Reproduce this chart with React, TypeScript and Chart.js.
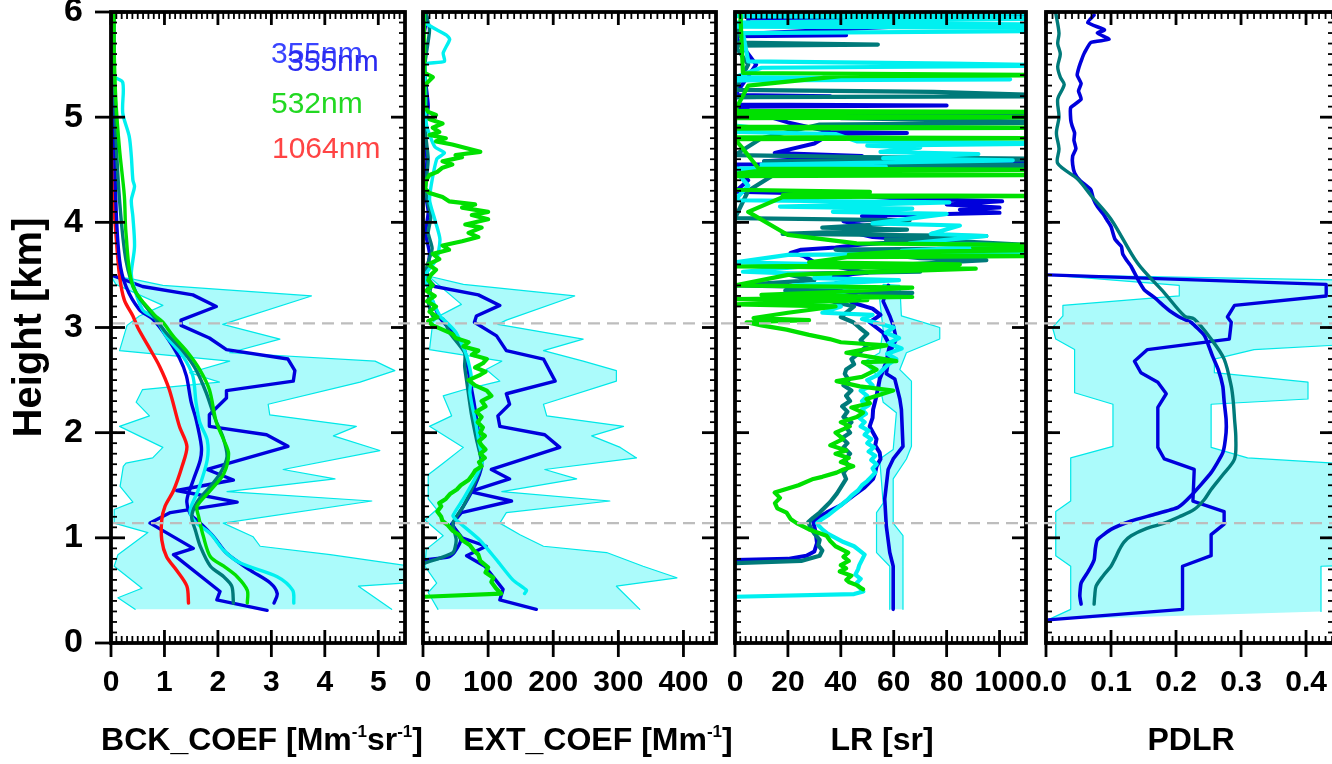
import { useEffect, useRef } from 'react';
import { Chart, registerables } from 'chart.js';

Chart.register(...registerables);

type Pt = [number, number];

const FONT = '"Liberation Sans", Arial, Helvetica, sans-serif';

// Shared height axis (km)
const heightTicks = [0, 1, 2, 3, 4, 5, 6];
const heightMax = 6;
const refHeights = [3.04, 1.14];

// Wavelength labels shown in the backscatter panel
const legendLabels = ['355nm', '355nm', '532nm', '1064nm'];

// X tick labels per panel
const bckTicks = [0, 1, 2, 3, 4, 5];
const extTicks = [0, 100, 200, 300, 400];
const lrTicks = [0, 20, 40, 60, 80, 100];
const pdlrTicks = [0, 0.1, 0.2, 0.3, 0.4];

// ---------- Backscatter coefficient [Mm-1 sr-1] vs height [km] ----------
const bckBand: Pt[] = [
  [5.25, 0.32], [4.63, 0.54], [5.47, 0.57], [5.6, 0.73], [4.1, 0.84], [2.79, 0.92], [2.66, 1.01], [2.1, 1.14],
  [4.88, 1.35], [2.17, 1.44], [4.19, 1.56], [3.22, 1.65], [5.03, 1.83], [4.16, 1.97], [4.59, 2.06], [2.97, 2.17],
  [2.94, 2.27], [4.66, 2.48], [5.31, 2.59], [4.94, 2.68], [2.22, 2.76], [3.16, 2.89], [2.09, 3.03], [3.75, 3.3],
  [0.97, 3.4], [0.41, 3.46], [0, 3.49],
  [0.09, 3.41], [0.97, 3.21], [0.53, 3.11], [0.3, 3.02], [0.16, 2.78], [2.22, 2.68], [1.47, 2.57], [2.03, 2.48],
  [0.59, 2.41], [0.47, 2.29], [0.72, 2.16], [0.16, 2.06], [0.97, 1.86], [0.78, 1.76], [0.28, 1.71], [0.23, 1.68],
  [0.17, 1.49], [0.41, 1.34], [0.06, 1.27], [0.06, 1.14], [0.69, 1.05], [0.13, 0.84], [0.06, 0.73], [0.58, 0.52],
  [0.13, 0.43], [0.45, 0.32],
];
const bck355Mean: Pt[] = [
  [2.92, 0.31], [1.98, 0.41], [2.04, 0.49], [1.17, 0.84], [1.54, 0.9], [0.73, 1.14], [1.11, 1.24], [2.36, 1.34],
  [1.23, 1.45], [2.29, 1.55], [1.8, 1.65], [3.31, 1.87], [2.91, 1.98], [1.84, 2.06], [1.84, 2.17], [2.16, 2.33],
  [2.16, 2.4], [3.41, 2.49], [3.44, 2.59], [3.31, 2.7], [2.16, 2.79], [1.84, 2.9], [1.31, 3.02], [1.31, 3.07],
  [1.97, 3.2], [1.53, 3.31], [0.59, 3.39], [0, 3.5],
];
const bck355: Pt[] = [
  [3.05, 0.38], [3.11, 0.47], [2.98, 0.57], [2.61, 0.69], [2.17, 0.85], [1.92, 1.01], [1.67, 1.14], [1.48, 1.23],
  [1.42, 1.36], [1.54, 1.55], [1.67, 1.74], [1.69, 1.87], [1.59, 2.13], [1.5, 2.29], [1.41, 2.54], [1.28, 2.71],
  [1.03, 2.92], [0.78, 3.08], [0.53, 3.17], [0.28, 3.39], [0.16, 3.64], [0.09, 4.21], [0.06, 5.17], [0.05, 6.0],
];
const bck355b: Pt[] = [
  [3.42, 0.38], [3.4, 0.5], [3.11, 0.63], [2.42, 0.76], [2.11, 0.88], [1.86, 1.04], [1.58, 1.15], [1.48, 1.26],
  [1.63, 1.45], [1.8, 1.74], [1.8, 1.93], [1.66, 2.1], [1.59, 2.29], [1.53, 2.54], [1.34, 2.73], [1.03, 2.92],
  [0.84, 3.08], [0.59, 3.17], [0.41, 3.42], [0.38, 3.52], [0.44, 3.77], [0.41, 4.05], [0.38, 4.21], [0.44, 4.34],
  [0.41, 4.4], [0.38, 4.63], [0.34, 4.82], [0.22, 5.04], [0.22, 5.33], [0.06, 5.39], [0.03, 5.7], [0.06, 5.8], [0.05, 6.0],
];
const bck355c: Pt[] = [
  [2.29, 0.38], [2.26, 0.54], [2.11, 0.63], [1.86, 0.73], [1.67, 0.92], [1.58, 1.07], [1.51, 1.2], [1.61, 1.34],
  [1.86, 1.49], [2.04, 1.61], [2.17, 1.77], [2.1, 1.95], [1.95, 2.13], [1.78, 2.38], [1.59, 2.6], [1.34, 2.78],
  [1.03, 2.95], [0.84, 3.08], [0.47, 3.33], [0.28, 3.64], [0.16, 4.21], [0.09, 4.85], [0.06, 5.48], [0.05, 6.0],
];
const bck532: Pt[] = [
  [2.55, 0.38], [2.55, 0.5], [2.36, 0.63], [2.11, 0.73], [1.86, 0.82], [1.73, 1.01], [1.64, 1.2], [1.61, 1.3],
  [1.86, 1.45], [2.11, 1.61], [2.2, 1.8], [2.11, 1.93], [1.97, 2.1], [1.84, 2.41], [1.66, 2.6], [1.44, 2.76],
  [1.16, 2.92], [0.97, 3.05], [0.81, 3.12], [0.41, 3.39], [0.28, 3.9], [0.25, 4.25], [0.16, 4.69], [0.09, 5.17],
  [0.06, 5.64], [0.06, 6.0],
];
const bck1064: Pt[] = [
  [1.45, 0.38], [1.42, 0.54], [1.23, 0.69], [1.04, 0.82], [0.95, 0.98], [0.95, 1.17], [1.01, 1.3], [1.17, 1.45],
  [1.33, 1.68], [1.42, 1.87], [1.28, 2.06], [1.09, 2.41], [0.91, 2.63], [0.69, 2.83], [0.5, 3.0], [0.41, 3.11],
  [0.25, 3.26], [0.16, 3.49], [0.09, 3.9], [0.03, 4.37], [0.02, 5.0], [0.02, 5.8],
];

// ---------- Extinction coefficient [Mm-1] ----------
const extBand: Pt[] = [
  [333, 0.32], [297, 0.54], [390, 0.62], [338, 0.73], [282, 0.86], [185, 0.92], [149, 1.03], [118, 1.14],
  [128, 1.24], [287, 1.35], [121, 1.44], [236, 1.56], [187, 1.65], [328, 1.76], [303, 1.86], [259, 1.97],
  [308, 2.06], [190, 2.16], [185, 2.27], [297, 2.49], [297, 2.59], [246, 2.68], [185, 2.78], [246, 2.89],
  [115, 3.03], [128, 3.07], [233, 3.3], [62, 3.41], [8, 3.49],
  [59, 3.22], [28, 3.12], [15, 3.05], [10, 2.79], [121, 2.68], [97, 2.6], [118, 2.49], [64, 2.41], [31, 2.35],
  [44, 2.16], [10, 2.06], [62, 1.86], [31, 1.71], [8, 1.6], [8, 1.37], [21, 1.27], [3, 1.17], [31, 1.02],
  [5, 0.89], [3, 0.73], [21, 0.57], [8, 0.48], [23, 0.32],
];
const ext355Mean: Pt[] = [
  [174, 0.32], [118, 0.41], [123, 0.51], [95, 0.73], [67, 0.83], [97, 0.92], [60, 1.0], [44, 1.13], [59, 1.24],
  [136, 1.35], [72, 1.44], [133, 1.56], [105, 1.65], [210, 1.86], [187, 1.98], [118, 2.06], [115, 2.16],
  [133, 2.27], [128, 2.37], [203, 2.49], [185, 2.7], [128, 2.78], [113, 2.92], [79, 3.05], [82, 3.11],
  [118, 3.21], [85, 3.31], [18, 3.39], [3, 3.49],
];
const ext355: Pt[] = [
  [3, 0.79], [40, 0.82], [48, 0.86], [58, 0.98], [46, 1.12], [52, 1.2], [64, 1.32], [80, 1.5], [90, 1.68],
  [88, 1.85], [84, 2.05], [78, 2.3], [72, 2.5], [68, 2.65], [64, 2.78], [50, 2.92], [36, 3.02], [25, 3.1],
  [12, 3.3], [6, 3.5], [10, 3.7], [4, 3.9], [8, 4.1], [3, 4.3], [6, 4.6], [2, 4.9], [8, 5.1], [3, 5.4],
  [2, 5.8], [6, 5.95], [2, 6.0],
];
const ext355b: Pt[] = [
  [156, 0.47], [159, 0.5], [138, 0.6], [113, 0.79], [87, 0.98], [51, 1.17], [46, 1.21], [62, 1.37], [82, 1.59],
  [92, 1.75], [87, 1.87], [82, 2.06], [72, 2.38], [74, 2.54], [67, 2.73], [51, 2.95], [36, 3.05], [26, 3.11],
  [12, 3.3], [3, 3.49], [21, 3.65], [26, 3.84], [18, 4.03], [10, 4.22], [21, 4.6], [33, 4.66], [18, 4.72],
  [5, 4.94], [3, 5.48], [5, 5.51], [33, 5.53], [31, 5.61], [41, 5.74], [36, 5.78], [3, 5.9], [2, 6.0],
];
const ext355c: Pt[] = [
  [3, 0.76], [46, 0.86], [51, 0.98], [46, 1.14], [62, 1.3], [82, 1.56], [90, 1.71], [82, 1.94], [74, 2.19],
  [68, 2.45], [64, 2.63], [64, 2.76], [41, 2.95], [31, 3.08], [15, 3.11], [8, 3.25], [12, 3.4], [5, 3.55],
  [14, 3.75], [8, 3.9], [12, 4.05], [4, 4.3], [8, 4.6], [3, 4.9], [5, 5.17], [3, 5.5], [10, 5.83], [4, 6.0],
];
const ext532: Pt[] = [
  [3, 0.44], [120, 0.47], [112, 0.52], [105, 0.58], [108, 0.62], [96, 0.67], [100, 0.72], [88, 0.78], [85, 0.84],
  [78, 0.88], [72, 0.93], [60, 0.98], [55, 1.03], [45, 1.07], [38, 1.12], [30, 1.16], [28, 1.2], [22, 1.25],
  [28, 1.3], [25, 1.33], [35, 1.37], [42, 1.42], [52, 1.46], [58, 1.5], [70, 1.55], [76, 1.6], [80, 1.64],
  [90, 1.68], [86, 1.72], [95, 1.76], [88, 1.8], [96, 1.84], [90, 1.88], [86, 1.92], [95, 1.97], [88, 2.0],
  [92, 2.05], [84, 2.1], [90, 2.15], [82, 2.2], [96, 2.25], [90, 2.3], [105, 2.35], [98, 2.4], [80, 2.45],
  [70, 2.5], [88, 2.55], [96, 2.58], [80, 2.62], [92, 2.66], [98, 2.7], [75, 2.74], [85, 2.78], [62, 2.82],
  [70, 2.86], [50, 2.9], [45, 2.94], [30, 2.98], [15, 3.02], [8, 3.06], [22, 3.1], [10, 3.15], [20, 3.2],
  [6, 3.25], [18, 3.3], [5, 3.35], [15, 3.4], [8, 3.45], [12, 3.5], [20, 3.55], [8, 3.6], [25, 3.65], [15, 3.7],
  [40, 3.74], [30, 3.78], [60, 3.82], [85, 3.86], [70, 3.9], [90, 3.95], [65, 3.98], [100, 4.03], [75, 4.07],
  [100, 4.1], [60, 4.14], [80, 4.17], [40, 4.2], [30, 4.24], [10, 4.28], [3, 4.32], [5, 4.4], [10, 4.45],
  [22, 4.48], [30, 4.52], [45, 4.55], [30, 4.58], [60, 4.62], [50, 4.64], [88, 4.67], [70, 4.7], [45, 4.74],
  [20, 4.77], [35, 4.8], [10, 4.83], [25, 4.86], [15, 4.9], [30, 4.94], [10, 4.98], [20, 5.02], [8, 5.05],
  [3, 5.1], [2, 5.3], [15, 5.38], [3, 5.42], [2, 5.6], [1, 6.0],
];

// ---------- Lidar ratio [sr] ----------
const lrBand: Pt[] = [
  [63.5, 0.32], [63.5, 1.02], [59.8, 1.14], [59.8, 1.56], [64.8, 1.75], [66.7, 1.87], [66.7, 2.49], [62.3, 2.6],
  [64.8, 2.76], [77.4, 2.89], [77.4, 3.0], [73.6, 3.03], [62.9, 3.11], [62.3, 3.4], [56, 3.41],
  [54.7, 3.26], [56, 2.98], [54.7, 2.76], [48.4, 2.67], [54, 2.54], [56, 2.29], [61, 2.19], [59.8, 1.84],
  [54.7, 1.75], [56, 1.33], [53.5, 1.24], [53.5, 0.86], [58.5, 0.73], [58.5, 0.32],
];
const lr355Mean: Pt[] = [
  [59.8, 0.32], [59.8, 0.73], [58.5, 0.86], [57.2, 1.11], [56.6, 1.37], [57.9, 1.65], [59.8, 1.75], [63.5, 1.87],
  [62.9, 2.22], [62.3, 2.32], [60.4, 2.51], [57.2, 2.56], [58.5, 2.76], [61, 2.89], [59.8, 3.02], [58.5, 3.11],
  [56, 3.25], [58, 3.4],
];
const lr355: Pt[] = [
  [0, 0.79], [20, 0.8], [27, 0.83], [30, 0.87], [31, 0.95], [30.5, 1.05], [29.6, 1.15], [32, 1.2], [34.6, 1.24],
  [40, 1.31], [44.7, 1.4], [49, 1.48], [52.2, 1.56], [53, 1.62], [53.5, 1.68], [55, 1.75], [54.7, 1.81],
  [53, 1.88], [53.5, 1.94], [50.9, 2.06], [52, 2.14], [52.2, 2.22], [53.5, 2.35], [54.7, 2.51], [57.2, 2.67],
  [58.5, 2.83], [56, 2.95], [50.9, 3.05], [55, 3.12], [52, 3.18], [44, 3.24], [47, 3.27], [42, 3.3], [46, 3.33],
  [40, 3.37], [38, 3.42], [48, 3.45], [36, 3.49], [50, 3.52], [42, 3.56], [30, 3.62], [26, 3.68], [21, 3.71],
  [25, 3.74], [38, 3.76], [48, 3.79], [71, 3.83], [52, 3.86], [45, 3.9], [50, 3.96], [41, 4.01], [57, 4.03],
  [48, 4.06], [100, 4.09], [85, 4.12], [100, 4.14], [80, 4.17], [101, 4.2], [60, 4.23], [36, 4.27], [0, 4.29],
  [5, 4.4], [0, 4.55], [130, 4.56], [11, 4.58], [48, 4.63], [15, 4.66], [30, 4.75], [36, 4.84], [65, 4.85],
  [36, 4.86], [20, 4.95], [0, 5.1], [80, 5.11], [0, 5.12], [0, 5.19], [36, 5.2], [0, 5.21], [8, 5.5],
  [0, 5.77], [42, 5.78], [3, 5.79], [60, 5.86], [75, 5.88], [5, 5.9], [5, 5.94], [130, 5.95], [5, 5.96],
  [10, 6.0],
];
const lr355b: Pt[] = [
  [0, 0.44], [45, 0.465], [48.5, 0.49], [47, 0.53], [46, 0.57], [47.5, 0.61], [45.5, 0.65], [46.5, 0.7],
  [47, 0.74], [48, 0.79], [49, 0.84], [47, 0.88], [45, 0.92], [41, 0.96], [38, 1.0], [35, 1.04], [33, 1.08],
  [31.5, 1.12], [31, 1.14], [33, 1.18], [35.5, 1.22], [38, 1.27], [40, 1.31], [42.5, 1.36], [44, 1.4],
  [46.5, 1.45], [48, 1.5], [50, 1.54], [51.5, 1.58], [53, 1.62], [52, 1.66], [53.5, 1.7], [51.5, 1.74],
  [53, 1.78], [50.5, 1.82], [52.5, 1.86], [50, 1.9], [51.5, 1.94], [49, 1.98], [50.5, 2.02], [47.5, 2.06],
  [49, 2.1], [47, 2.14], [49.5, 2.18], [48, 2.22], [50.5, 2.26], [48, 2.3], [50, 2.35], [47.5, 2.4], [52, 2.45],
  [50, 2.5], [54, 2.55], [56, 2.6], [58, 2.65], [61, 2.7], [57.5, 2.75], [63, 2.8], [58, 2.85], [62, 2.9],
  [57, 2.95], [60, 3.0], [54, 3.04], [48, 3.08], [52, 3.12], [33, 3.14], [40, 3.2], [18, 3.22], [35, 3.3],
  [47, 3.38], [22, 3.4], [62, 3.45], [30, 3.47], [36, 3.5], [3, 3.53], [35, 3.6], [0, 3.62], [20, 3.69],
  [130, 3.71], [63, 3.73], [105, 3.78], [66, 3.8], [95, 3.87], [74, 3.89], [85, 3.97], [52, 3.99], [80, 4.08],
  [37, 4.1], [67, 4.13], [17, 4.15], [81, 4.19], [0, 4.21], [5, 4.35], [0, 4.49], [17, 4.5], [0, 4.51],
  [57, 4.53], [10, 4.55], [105, 4.59], [56, 4.61], [92, 4.65], [55, 4.67], [70, 4.71], [50, 4.73], [130, 4.75],
  [46, 4.77], [38, 4.84], [0, 4.86], [7, 4.9], [0, 4.92], [0, 5.03], [32, 5.04], [0, 5.06], [0, 5.35],
  [104, 5.36], [0, 5.38], [10, 5.47], [130, 5.49], [82, 5.51], [5, 5.53], [3, 5.8], [130, 5.82], [130, 5.85],
  [0, 5.86], [130, 5.88], [0, 5.9], [130, 5.94], [0, 5.96], [130, 5.99],
];
const lr355c: Pt[] = [
  [0, 0.76], [25, 0.78], [32, 0.83], [33, 0.88], [31.5, 0.93], [32, 0.98], [30, 1.04], [28.5, 1.1], [27.7, 1.15],
  [29.5, 1.19], [32, 1.24], [34, 1.29], [36, 1.34], [38.5, 1.42], [40, 1.48], [42, 1.56], [41, 1.62], [43, 1.68],
  [41.5, 1.74], [43.5, 1.8], [41, 1.86], [42.5, 1.9], [40.5, 1.95], [43.5, 2.0], [42, 2.05], [44, 2.1],
  [41, 2.15], [42.5, 2.2], [40.5, 2.25], [43.5, 2.3], [42, 2.35], [44, 2.4], [41, 2.45], [43, 2.5], [41.5, 2.56],
  [42, 2.6], [45, 2.65], [44, 2.7], [47, 2.76], [49.7, 2.82], [47.5, 2.88], [50, 2.94], [47, 3.0], [44.7, 3.05],
  [40, 3.1], [45, 3.2], [33, 3.27], [67, 3.33], [19, 3.35], [45, 3.38], [0, 3.4], [30, 3.45], [19, 3.51],
  [70, 3.53], [50, 3.58], [95, 3.64], [70, 3.66], [38, 3.74], [130, 3.76], [85, 3.82], [57, 3.84], [95, 3.87],
  [18, 3.89], [65, 3.93], [33, 3.95], [55, 3.98], [66, 4.02], [0, 4.04], [5, 4.3], [19, 4.52], [130, 4.54],
  [11, 4.58], [130, 4.6], [48, 4.62], [0, 4.64], [10, 4.8], [32, 4.93], [130, 4.95], [40, 4.99], [130, 5.01],
  [0, 5.03], [0, 5.19], [130, 5.2], [75, 5.24], [0, 5.26], [5, 5.5], [0, 5.68], [54, 5.69], [0, 5.71], [3, 6.0],
];
const lr532: Pt[] = [
  [48.4, 0.51], [46, 0.55], [43, 0.58], [42.1, 0.6], [44, 0.64], [39.6, 0.68], [42, 0.71], [40, 0.74], [43, 0.78],
  [41, 0.82], [42.8, 0.86], [38, 0.92], [36, 0.97], [34.6, 1.02], [28, 1.08], [23.3, 1.14], [21, 1.18],
  [19.5, 1.24], [16, 1.28], [15.1, 1.33], [17, 1.38], [15, 1.43], [20, 1.47], [24, 1.5], [29.6, 1.56],
  [33, 1.58], [38.4, 1.62], [41, 1.65], [44.7, 1.68], [40, 1.72], [43, 1.76], [38, 1.8], [42.1, 1.83],
  [36, 1.88], [40.9, 1.94], [38, 2.0], [43.4, 2.06], [40, 2.1], [46, 2.15], [48.4, 2.19], [44, 2.24],
  [51, 2.28], [49.7, 2.32], [59.8, 2.4], [47.2, 2.44], [38.4, 2.49], [48, 2.53], [53.5, 2.6], [48.4, 2.67],
  [61, 2.68], [42.1, 2.76], [57.2, 2.83], [40, 2.86], [35.8, 2.89], [28, 2.93], [19.5, 2.98], [10, 3.02],
  [4.4, 3.05], [28, 3.07], [7, 3.09], [20, 3.14], [38, 3.2], [0, 3.22], [50, 3.26], [0, 3.27], [67, 3.29],
  [10, 3.31], [40, 3.34], [67, 3.38], [0, 3.4], [20, 3.5], [91, 3.56], [0, 3.58], [85, 3.6], [28, 3.62],
  [43, 3.67], [130, 3.68], [43, 3.69], [60, 3.72], [130, 3.74], [90, 3.76], [130, 3.78], [46, 3.8], [20, 3.88],
  [5, 4.1], [18, 4.24], [130, 4.25], [18, 4.26], [51, 4.29], [0, 4.31], [0, 4.44], [130, 4.45], [0, 4.46],
  [9, 4.49], [130, 4.5], [9, 4.51], [3, 4.7], [0, 4.79], [130, 4.8], [0, 4.81], [0, 4.89], [130, 4.9],
  [0, 4.91], [0, 4.99], [130, 5.0], [0, 5.01], [0, 5.04], [130, 5.05], [0, 5.06], [5, 5.3], [40, 5.39],
  [130, 5.4], [3, 5.42], [2, 6.0],
];

// ---------- Particle depolarization ratio ----------
const pdlrBand: Pt[] = [
  [0.423, 0.3], [0.423, 0.73], [0.47, 0.74], [0.47, 1.7], [0.31, 1.76], [0.254, 1.86], [0.254, 2.27],
  [0.403, 2.32], [0.403, 2.48], [0.259, 2.57], [0.259, 2.7], [0.32, 2.79], [0.47, 2.84], [0.47, 3.45],
  [0.003, 3.5], [0.205, 3.4], [0.205, 3.3], [0.026, 3.21], [0.026, 3.11], [0.01, 3.0], [0.015, 2.89],
  [0.044, 2.79], [0.044, 2.38], [0.103, 2.27], [0.103, 1.87], [0.038, 1.76], [0.038, 1.35], [0.015, 1.25],
  [0.015, 0.83], [0.038, 0.73], [0.038, 0.32], [0.003, 0.22],
];
const pdlr532Mean: Pt[] = [
  [0.003, 0.22], [0.21, 0.32], [0.21, 0.73], [0.254, 0.83], [0.254, 1.03], [0.274, 1.13], [0.274, 1.25],
  [0.226, 1.35], [0.228, 1.65], [0.182, 1.75], [0.172, 1.86], [0.172, 2.24], [0.185, 2.37], [0.172, 2.48],
  [0.146, 2.57], [0.136, 2.68], [0.156, 2.79], [0.282, 2.89], [0.285, 3.05], [0.279, 3.1], [0.29, 3.21],
  [0.431, 3.3], [0.431, 3.41], [0.003, 3.5],
];
const pdlr532: Pt[] = [
  [0.054, 0.37], [0.052, 0.45], [0.054, 0.57], [0.065, 0.68], [0.074, 0.79], [0.076, 0.9], [0.079, 0.98],
  [0.1, 1.08], [0.131, 1.16], [0.165, 1.22], [0.203, 1.29], [0.223, 1.4], [0.254, 1.62], [0.272, 1.81],
  [0.277, 2.0], [0.277, 2.13], [0.274, 2.3], [0.272, 2.44], [0.265, 2.6], [0.256, 2.73], [0.244, 2.92],
  [0.223, 3.05], [0.208, 3.09], [0.19, 3.16], [0.182, 3.2], [0.168, 3.28], [0.151, 3.36], [0.142, 3.45],
  [0.131, 3.58], [0.124, 3.64], [0.118, 3.7], [0.116, 3.77], [0.106, 3.84], [0.1, 3.96], [0.094, 4.02],
  [0.088, 4.08], [0.079, 4.15], [0.073, 4.22], [0.069, 4.31], [0.052, 4.4], [0.044, 4.47], [0.041, 4.55],
  [0.041, 4.63], [0.046, 4.7], [0.043, 4.78], [0.044, 4.85], [0.04, 4.92], [0.038, 4.98], [0.038, 5.09],
  [0.054, 5.17], [0.05, 5.25], [0.054, 5.32], [0.048, 5.4], [0.051, 5.48], [0.055, 5.55], [0.059, 5.61],
  [0.069, 5.71], [0.097, 5.74], [0.079, 5.8], [0.09, 5.83], [0.064, 5.9], [0.074, 5.97],
];
const pdlr532b: Pt[] = [
  [0.074, 0.37], [0.075, 0.45], [0.077, 0.54], [0.088, 0.64], [0.1, 0.73], [0.106, 0.8], [0.113, 0.89],
  [0.12, 0.96], [0.131, 1.02], [0.155, 1.09], [0.182, 1.14], [0.205, 1.2], [0.228, 1.27], [0.243, 1.36],
  [0.254, 1.46], [0.272, 1.6], [0.29, 1.75], [0.292, 1.95], [0.29, 2.13], [0.288, 2.3], [0.285, 2.44],
  [0.274, 2.7], [0.254, 2.89], [0.228, 3.08], [0.213, 3.11], [0.182, 3.33], [0.141, 3.61], [0.1, 4.03],
  [0.07, 4.25], [0.049, 4.41], [0.018, 4.56], [0.02, 4.7], [0.016, 4.85], [0.02, 5.0], [0.018, 5.17],
  [0.028, 5.31], [0.022, 5.38], [0.018, 5.48], [0.022, 5.6], [0.018, 5.7], [0.02, 5.8], [0.015, 5.99],
];

const COLORS = {
  blue: '#0000dc',
  teal: '#007a7a',
  cyan: '#00f0f0',
  green: '#00e000',
  red: '#ff1010',
  band: '#abfbfb',
  bandEdge: '#00e8e8',
};

type Series = { points: Pt[]; color: string; width: number; tension?: number; band?: boolean };
type TitlePart = { text: string; sup?: boolean };
type PanelCfg = {
  left: number;
  right: number;
  xMax: number;
  ticks: number[];
  minorStep: number;
  decimals: number;
  titleCenter: number;
  title: TitlePart[];
  showHeight: boolean;
  legend: boolean;
  refLines: boolean;
  series: Series[];
};

const line = (points: Pt[], color: string, tension = 0, width = 3.4): Series => ({ points, color, width, tension });
const band = (points: Pt[]): Series => ({ points, color: COLORS.bandEdge, width: 1.2, band: true });

const CANVAS_W = 1340;
const CANVAS_H = 764;
const AREA_TOP = 12;
const AREA_BOTTOM = 643;

const panels: PanelCfg[] = [
  {
    left: 111, right: 405, xMax: 5.5, ticks: bckTicks, minorStep: 0.1, decimals: 0,
    titleCenter: 262,
    title: [{ text: 'BCK_COEF [Mm' }, { text: '-1', sup: true }, { text: 'sr' }, { text: '-1', sup: true }, { text: ']' }],
    showHeight: true, legend: true, refLines: false,
    series: [
      line(bck532, COLORS.green, 0.3),
      line(bck355c, COLORS.teal, 0.3),
      line(bck355b, COLORS.cyan, 0.3),
      line(bck355, COLORS.blue, 0.3),
      line(bck1064, COLORS.red, 0.3),
      line(bck355Mean, COLORS.blue),
      band(bckBand),
    ],
  },
  {
    left: 423, right: 716, xMax: 450, ticks: extTicks, minorStep: 10, decimals: 0,
    titleCenter: 598,
    title: [{ text: 'EXT_COEF [Mm' }, { text: '-1', sup: true }, { text: ']' }],
    showHeight: false, legend: false, refLines: false,
    series: [
      line(ext532, COLORS.green, 0, 4.2),
      line(ext355b, COLORS.cyan, 0.2),
      line(ext355c, COLORS.teal, 0.2),
      line(ext355, COLORS.blue, 0.2),
      line(ext355Mean, COLORS.blue),
      band(extBand),
    ],
  },
  {
    left: 735, right: 1026, xMax: 110, ticks: lrTicks, minorStep: 2, decimals: 0,
    titleCenter: 882,
    title: [{ text: 'LR [sr]' }],
    showHeight: false, legend: false, refLines: false,
    series: [
      line(lr532, COLORS.green, 0, 4.2),
      line(lr355b, COLORS.cyan, 0, 4.2),
      line(lr355c, COLORS.teal, 0, 4.2),
      line(lr355, COLORS.blue, 0, 4),
      line(lr355Mean, COLORS.blue, 0, 3.6),
      band(lrBand),
    ],
  },
  {
    left: 1046, right: 1334, xMax: 0.443, ticks: pdlrTicks, minorStep: 0.01, decimals: 1,
    titleCenter: 1191,
    title: [{ text: 'PDLR' }],
    showHeight: false, legend: false, refLines: true,
    series: [
      line(pdlr532b, COLORS.teal, 0.3),
      line(pdlr532, COLORS.blue, 0.15, 3.6),
      line(pdlr532Mean, COLORS.blue),
      band(pdlrBand),
    ],
  },
];

function strokeLine(ctx: CanvasRenderingContext2D, x1: number, y1: number, x2: number, y2: number) {
  ctx.beginPath();
  ctx.moveTo(x1, y1);
  ctx.lineTo(x2, y2);
  ctx.stroke();
}

function drawFrame(chart: any, cfg: PanelCfg) {
  const { ctx, chartArea: a } = chart;
  const xs = chart.scales.x;
  const ys = chart.scales.y;
  ctx.save();
  ctx.strokeStyle = '#000';
  ctx.lineCap = 'butt';

  // minor ticks
  ctx.lineWidth = 1.8;
  const nx = Math.floor(cfg.xMax / cfg.minorStep + 1e-6);
  for (let i = 1; i <= nx; i++) {
    const px = xs.getPixelForValue(i * cfg.minorStep);
    strokeLine(ctx, px, a.bottom, px, a.bottom - 7);
    strokeLine(ctx, px, a.top, px, a.top + 7);
  }
  const ny = Math.round(heightMax / 0.1);
  for (let i = 1; i < ny; i++) {
    const py = ys.getPixelForValue(i * 0.1);
    strokeLine(ctx, a.left, py, a.left + 6, py);
    strokeLine(ctx, a.right, py, a.right - 6, py);
  }

  // major ticks
  ctx.lineWidth = 2.8;
  cfg.ticks.forEach((v) => {
    const px = xs.getPixelForValue(v);
    strokeLine(ctx, px, a.bottom - 13, px, a.bottom + 14);
    strokeLine(ctx, px, a.top, px, a.top + 13);
  });
  heightTicks.forEach((h) => {
    const py = ys.getPixelForValue(h);
    strokeLine(ctx, a.left - (cfg.showHeight ? 16 : 0), py, a.left + 14, py);
    strokeLine(ctx, a.right - 14, py, a.right, py);
  });

  // frame
  ctx.lineWidth = 3.8;
  ctx.strokeRect(a.left, a.top, a.right - a.left, a.bottom - a.top);
  ctx.restore();
}

function drawTitle(ctx: CanvasRenderingContext2D, parts: TitlePart[], cx: number, baseline: number) {
  const mainFont = `bold 32px ${FONT}`;
  const supFont = `bold 17px ${FONT}`;
  let total = 0;
  parts.forEach((p) => {
    ctx.font = p.sup ? supFont : mainFont;
    total += ctx.measureText(p.text).width;
  });
  let x = cx - total / 2;
  ctx.fillStyle = '#000';
  ctx.textAlign = 'left';
  ctx.textBaseline = 'alphabetic';
  parts.forEach((p) => {
    ctx.font = p.sup ? supFont : mainFont;
    ctx.fillText(p.text, x, p.sup ? baseline - 13 : baseline);
    x += ctx.measureText(p.text).width;
  });
}

function drawLegend(ctx: CanvasRenderingContext2D) {
  const entries = [
    { text: legendLabels[0], color: '#3a44ff', x: 271, y: 63 },
    { text: legendLabels[1], color: '#2a2af0', x: 287, y: 71 },
    { text: legendLabels[2], color: '#22d822', x: 271, y: 113 },
    { text: legendLabels[3], color: '#ff4444', x: 272, y: 158 },
  ];
  ctx.save();
  ctx.font = `30px ${FONT}`;
  ctx.textAlign = 'left';
  ctx.textBaseline = 'alphabetic';
  entries.forEach((e) => {
    ctx.fillStyle = e.color;
    ctx.fillText(e.text, e.x, e.y);
  });
  ctx.restore();
}

function drawRefLines(chart: any) {
  const { ctx } = chart;
  const ys = chart.scales.y;
  ctx.save();
  ctx.strokeStyle = '#bdbdbd';
  ctx.lineWidth = 2.2;
  ctx.setLineDash([12, 7]);
  refHeights.forEach((h) => {
    const py = ys.getPixelForValue(h);
    strokeLine(ctx, 113, py, CANVAS_W, py);
  });
  ctx.restore();
}

function buildConfig(cfg: PanelCfg): any {
  const decor = {
    id: 'panelDecor',
    afterDatasetsDraw(chart: any) {
      drawFrame(chart, cfg);
    },
    afterDraw(chart: any) {
      const ctx = chart.ctx as CanvasRenderingContext2D;
      ctx.save();
      drawTitle(ctx, cfg.title, cfg.titleCenter, 750);
      ctx.restore();
      if (cfg.legend) drawLegend(ctx);
      if (cfg.refLines) drawRefLines(chart);
    },
  };

  return {
    type: 'line',
    data: {
      datasets: cfg.series.map((s) => ({
        data: s.points.map(([x, y]) => ({ x, y })),
        borderColor: s.color,
        backgroundColor: s.band ? COLORS.band : 'transparent',
        borderWidth: s.width,
        fill: s.band ? 'shape' : false,
        tension: s.tension ?? 0,
        pointRadius: 0,
        pointHoverRadius: 0,
        borderJoinStyle: 'round',
        borderCapStyle: 'round',
      })),
    },
    options: {
      responsive: false,
      maintainAspectRatio: false,
      animation: false,
      events: [],
      layout: { padding: { left: 0, top: AREA_TOP, right: CANVAS_W - cfg.right, bottom: 0 } },
      plugins: { legend: { display: false }, tooltip: { enabled: false }, title: { display: false } },
      scales: {
        x: {
          type: 'linear',
          position: 'bottom',
          min: 0,
          max: cfg.xMax,
          afterBuildTicks: (s: any) => {
            s.ticks = cfg.ticks.map((v) => ({ value: v }));
          },
          afterFit: (s: any) => {
            s.height = CANVAS_H - AREA_BOTTOM;
            s.paddingLeft = 0;
            s.paddingRight = 0;
          },
          grid: { display: false, drawTicks: false },
          border: { display: false },
          ticks: {
            autoSkip: false,
            maxRotation: 0,
            minRotation: 0,
            padding: 22,
            color: '#000',
            font: { family: FONT, size: 30, weight: 'bold' },
            callback: (v: number) => Number(v).toFixed(cfg.decimals),
          },
        },
        y: {
          type: 'linear',
          position: 'left',
          min: 0,
          max: heightMax,
          afterBuildTicks: (s: any) => {
            s.ticks = heightTicks.map((v) => ({ value: v }));
          },
          afterFit: (s: any) => {
            s.width = cfg.left;
            s.paddingTop = 0;
            s.paddingBottom = 0;
          },
          grid: { display: false, drawTicks: false },
          border: { display: false },
          ticks: {
            display: cfg.showHeight,
            padding: 28,
            color: '#000',
            font: { family: FONT, size: 34, weight: 'bold' },
            callback: (v: number) => String(v),
          },
          title: {
            display: cfg.showHeight,
            text: 'Height [km]',
            color: '#000',
            font: { family: FONT, size: 40, weight: 'bold' },
            padding: { top: 6, bottom: 0 },
          },
        },
      },
    },
    plugins: [decor],
  };
}

function PanelChart({ cfg }: { cfg: PanelCfg }) {
  const ref = useRef<HTMLCanvasElement>(null);
  useEffect(() => {
    if (!ref.current) return;
    const chart = new Chart(ref.current, buildConfig(cfg));
    return () => chart.destroy();
  }, [cfg]);
  return (
    <canvas
      ref={ref}
      width={CANVAS_W}
      height={CANVAS_H}
      style={{ position: 'absolute', left: 0, top: 0, width: CANVAS_W, height: CANVAS_H }}
    />
  );
}

export default function App() {
  return (
    <div
      style={{
        position: 'fixed',
        left: 0,
        top: 0,
        width: 1332,
        height: 764,
        overflow: 'hidden',
        background: '#fff',
      }}
    >
      {panels.map((cfg, i) => (
        <PanelChart key={i} cfg={cfg} />
      ))}
    </div>
  );
}
